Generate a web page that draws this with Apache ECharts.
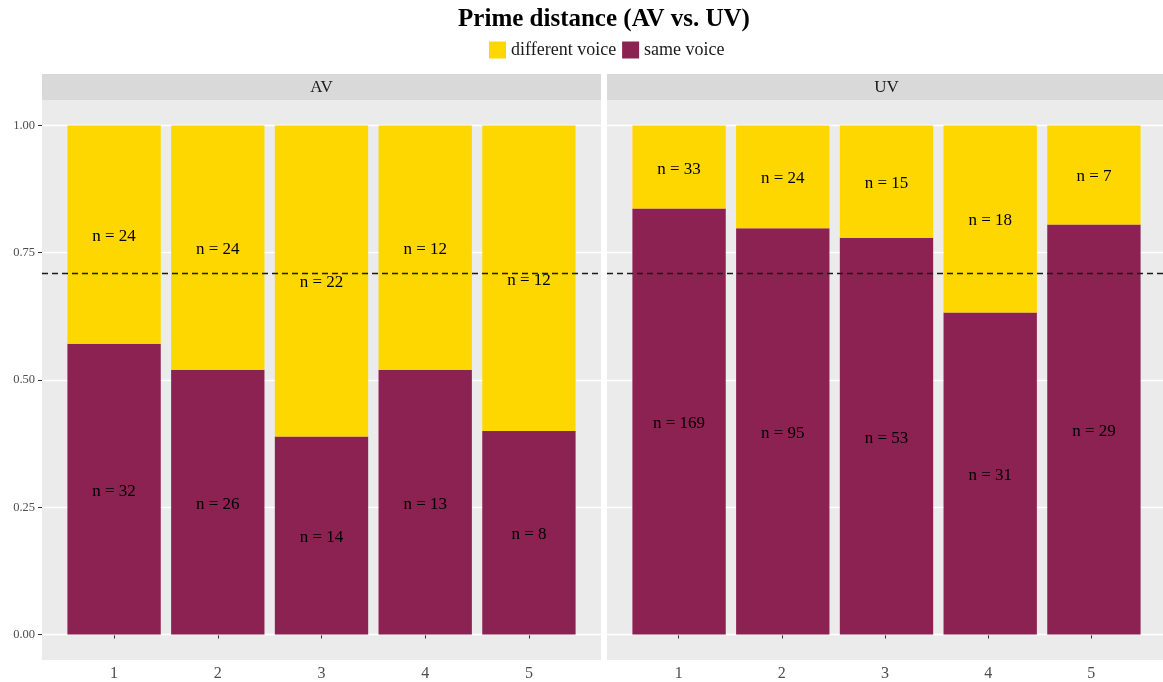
<!DOCTYPE html>
<html><head><meta charset="utf-8">
<script src="https://cdn.jsdelivr.net/npm/echarts@6/dist/echarts.min.js"></script>
<style>html,body{margin:0;padding:0;background:#fff}#c{width:1163px;height:682px}</style>
</head><body><div id="c"></div>
<script>
const titleText = 'Prime distance (AV vs. UV)';
const panels = ['AV', 'UV'];
const categories = ['1', '2', '3', '4', '5'];
const seriesNames = ['different voice', 'same voice'];
const sameAV = [32, 26, 14, 13, 8];
const diffAV = [24, 24, 22, 12, 12];
const sameUV = [169, 95, 53, 31, 29];
const diffUV = [33, 24, 15, 18, 7];
const yTicks = [0, 0.25, 0.5, 0.75, 1];

const colors = { 'different voice': '#FFD700', 'same voice': '#8B2252' };
const FONT = '"Liberation Serif", "DejaVu Serif", serif';

const sum = a => a.reduce((s, v) => s + v, 0);
const totalSame = sum(sameAV) + sum(sameUV);
const totalAll = totalSame + sum(diffAV) + sum(diffUV);
const overallSame = totalSame / totalAll;

const panelData = [
  { same: sameAV, diff: diffAV },
  { same: sameUV, diff: diffUV }
];
// panel boxes (layout)
const panelBoxes = [
  { left: 42, top: 100, width: 559, height: 560 },
  { left: 607, top: 100, width: 559, height: 560 }
];
const xMin = 0.305, xMax = 5.695;

const grids = [], xAxes = [], yAxes = [], series = [], graphics = [];

panelBoxes.forEach((b, i) => {
  const outer = i * 2, inner = i * 2 + 1;
  const unit = b.width / (xMax - xMin);
  grids.push({ left: b.left, top: b.top, width: b.width, height: b.height, show: true, backgroundColor: '#EBEBEB', borderWidth: 0, z: 0 });
  grids.push({ left: b.left + (0.5 - xMin) * unit, top: b.top, width: 5 * unit, height: b.height, show: false });
  xAxes.push({
    type: 'value', gridIndex: outer, min: xMin, max: xMax,
    axisLine: { show: false }, splitLine: { show: false },
    axisTick: { show: true, customValues: categories.map(Number), length: 4, lineStyle: { color: '#333333', width: 1 } },
    axisLabel: { show: true, customValues: categories.map(Number), margin: 6, color: '#4D4D4D', fontFamily: FONT, fontSize: 16 }
  });
  xAxes.push({
    type: 'category', gridIndex: inner, data: categories, boundaryGap: true,
    axisLine: { show: false }, axisTick: { show: false }, axisLabel: { show: false }, splitLine: { show: false }
  });
  yAxes.push({
    type: 'value', gridIndex: outer, min: -0.05, max: 1.05,
    axisLine: { show: false }, splitLine: { show: false },
    axisTick: { show: i === 0, customValues: yTicks, length: 4, lineStyle: { color: '#333333', width: 1 } },
    axisLabel: { show: i === 0, customValues: yTicks, margin: 7, color: '#4D4D4D', fontFamily: FONT, fontSize: 12.5, formatter: v => v.toFixed(2) }
  });
  yAxes.push({
    type: 'value', gridIndex: inner, min: -0.05, max: 1.05,
    axisLine: { show: false }, axisTick: { show: false }, axisLabel: { show: false }, splitLine: { show: false }
  });
  // white major gridlines (below bars)
  series.push({
    type: 'line', xAxisIndex: outer, yAxisIndex: outer, data: [], z: 1, silent: true,
    markLine: { z: 1, silent: true, symbol: 'none', animation: false, label: { show: false },
      lineStyle: { color: '#FFFFFF', width: 1.3, type: 'solid' },
      data: yTicks.map(v => ({ yAxis: v })) }
  });
  const d = panelData[i];
  const props = d.same.map((s, k) => s / (s + d.diff[k]));
  const mk = (name, counts, vals) => ({
    type: 'bar', name, xAxisIndex: inner, yAxisIndex: inner, stack: 'p' + i, barWidth: '90%', z: 3,
    itemStyle: { color: colors[name] },
    emphasis: { disabled: true },
    animation: false,
    label: { show: true, position: 'inside', offset: [0, 2], color: '#000', fontFamily: FONT, fontSize: 17, textBorderWidth: 0,
      formatter: p => 'n = ' + counts[p.dataIndex] },
    data: vals
  });
  series.push(mk('same voice', d.same, props));
  series.push(mk('different voice', d.diff, props.map(p => 1 - p)));
  // dashed overall proportion line
  series.push({
    type: 'line', xAxisIndex: outer, yAxisIndex: outer, data: [], z: 10, silent: true,
    markLine: { z: 10, silent: true, symbol: 'none', animation: false, label: { show: false },
      lineStyle: { color: '#1A1A1A', width: 1.4, type: [6, 4] },
      data: [{ yAxis: overallSame }] }
  });
  // facet strip
  graphics.push({ type: 'rect', silent: true, shape: { x: b.left, y: 74, width: b.width, height: 26 }, style: { fill: '#D9D9D9' } });
  graphics.push({ type: 'text', silent: true, style: { text: panels[i], x: b.left + b.width / 2, y: 88, align: 'center', verticalAlign: 'middle', textAlign: 'center', textVerticalAlign: 'middle', font: '17px ' + FONT, fill: '#1A1A1A' } });
});

graphics.push({ type: 'text', silent: true, style: { text: titleText, x: 604, y: 20, align: 'center', verticalAlign: 'middle', textAlign: 'center', textVerticalAlign: 'middle', font: 'bold 25px ' + FONT, fill: '#000000' } });

const chart = echarts.init(document.getElementById('c'), null, { renderer: 'canvas' });
chart.setOption({
  backgroundColor: '#FFFFFF',
  animation: false,
  legend: {
    data: seriesNames, left: 484, top: 36, itemWidth: 17, itemHeight: 17, itemGap: 6, icon: 'rect',
    textStyle: { fontFamily: FONT, fontSize: 18, color: '#1A1A1A' }, selectedMode: false
  },
  grid: grids, xAxis: xAxes, yAxis: yAxes, series, graphic: graphics
});
</script></body></html>
